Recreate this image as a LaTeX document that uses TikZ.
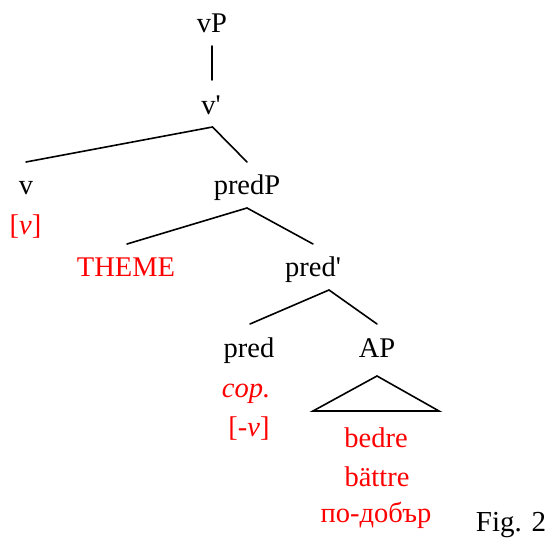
\documentclass[tikz,border=0pt]{standalone}
\usepackage{fontspec}
\setmainfont{Liberation Serif}
\begin{document}
\begin{tikzpicture}[x=1pt,y=-1pt,
  lbl/.style={anchor=base,inner sep=0pt,font=\fontsize{28.5}{31}\selectfont},
  rlbl/.style={lbl,text=red},
  br/.style={line width=1.6pt,line cap=round,line join=miter}]
\useasboundingbox (0,0) rectangle (550,540);
% labels
\node[lbl] (vP) at (212,33) {vP};
\node[lbl] (vbar) at (211,115) {v\textquotesingle};
\node[lbl] (v) at (26,195) {v};
\node[rlbl] (vfeat) at (25.5,235) {[\textit{v}]};
\node[lbl] (predP) at (247,195) {predP};
\node[rlbl] (theme) at (126,277) {THEME};
\node[lbl] (predbar) at (313,277) {pred\textquotesingle};
\node[lbl] (pred) at (249,358) {pred};
\node[lbl] (AP) at (377,358) {AP};
\node[rlbl] (cop) at (246,398) {\textit{cop.}};
\node[rlbl] (negv) at (249,437) {[-\textit{v}]};
\node[rlbl] (bedre) at (376,448) {bedre};
\node[rlbl] (battre) at (377,487) {bättre};
\node[rlbl] (podobar) at (376,523) {по-добър};
\node[anchor=base,inner sep=0pt,font=\fontsize{29}{32}\selectfont] (fig) at (511,532) {Fig. 2};
% branch points
\coordinate (vPb) at (212,46);
\coordinate (vbart) at (212,80);
\coordinate (vbarb) at (212.5,127);
\coordinate (vt) at (26,162);
\coordinate (predPt) at (247,162);
\coordinate (predPb) at (247,208);
\coordinate (themet) at (127,244);
\coordinate (predbart) at (313,244);
\coordinate (predbarb) at (329,290);
\coordinate (predt) at (250,324);
\coordinate (APt) at (377,324);
\coordinate (tria) at (377,376);
\coordinate (tril) at (313,411);
\coordinate (trir) at (439,411);
% branches
\draw[br] (vPb) -- (vbart);
\draw[br] (vt) -- (vbarb) -- (predPt);
\draw[br] (themet) -- (predPb) -- (predbart);
\draw[br] (predt) -- (predbarb) -- (APt);
\draw[br] (tril) -- (tria) -- (trir) -- cycle;
\end{tikzpicture}
\end{document}
